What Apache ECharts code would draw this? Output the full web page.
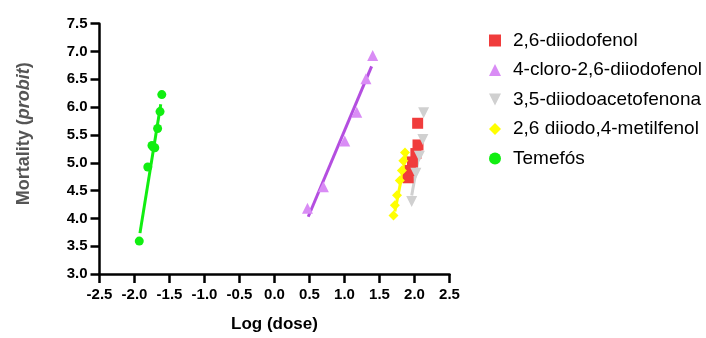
<!DOCTYPE html>
<html><head><meta charset="utf-8">
<script src="https://cdn.jsdelivr.net/npm/echarts@6/dist/echarts.min.js"></script>
<style>html,body{margin:0;padding:0;background:#fff}#c{width:706px;height:338px}</style>
</head><body><div id="c"></div>
<script>
// Data: [log dose, probit]
const seriesNames = ['2,6-diiodofenol','4-cloro-2,6-diiodofenol','3,5-diiodoacetofenona','2,6 diiodo,4-metilfenol','Temefós'];
const diiodofenolPts = [[2.045,5.71],[2.05,5.32],[2.02,5.165],[1.97,5.015],[1.94,4.86],[1.91,4.73]];
const diiodofenolLine = [[1.91,4.66],[2.07,5.37]];
const cloroPts = [[1.403,6.927],[1.306,6.51],[1.175,5.91],[1.004,5.392],[0.698,4.568],[0.471,4.182]];
const cloroLine = [[0.482,4.03],[1.387,6.734]];
const acetoPts = [[2.13,5.90],[2.12,5.42],[2.07,5.115],[2.02,4.81],[1.96,4.305]];
const acetoLine = [[1.96,4.41],[2.11,5.47]];
const metilPts = [[1.864,5.185],[1.84,5.035],[1.82,4.86],[1.79,4.68],[1.75,4.415],[1.72,4.235],[1.70,4.05]];
const metilLine = [[1.72,4.125],[1.89,5.215]];
const temefosPts = [[-1.61,6.225],[-1.635,5.92],[-1.67,5.615],[-1.73,5.28],[-1.75,5.31],[-1.71,5.27],[-1.81,4.924],[-1.932,3.592]];
const temefosLine = [[-1.922,3.735],[-1.625,6.05]];
const xTicks = [-2.5,2.5,0.5];
const yTicks = [3.0,7.5,0.5];

const markerColors = ['#f03c3c','#d98cf5','#d0d0d0','#ffff00','#11ee11'];
const lineColors = ['#ff0000','#b44ee0','#d0d0d0','#ffff00','#11ee11'];
const symbols = ['rect','triangle','path://M0,0 L10,0 L5,10 Z','diamond','circle'];
const symSizes = [11,11,11,10,9];
const pts = [diiodofenolPts,cloroPts,acetoPts,metilPts,temefosPts];
const lines = [diiodofenolLine,cloroLine,acetoLine,metilLine,temefosLine];

const series = [];
for (let i=0;i<5;i++){
  series.push({type:'line',name:seriesNames[i]+' fit',data:lines[i],showSymbol:false,symbol:'none',
    lineStyle:{color:lineColors[i],width:3},z:2,silent:true});
}
for (let i=0;i<5;i++){
  series.push({type:'scatter',name:seriesNames[i],data:pts[i],symbol:symbols[i],symbolSize:symSizes[i],
    itemStyle:{color:markerColors[i],opacity:1},z:3});
}
const axisFont = {fontFamily:'Liberation Sans, Arial',fontWeight:'bold',fontSize:15,color:'#000'};
const chart = echarts.init(document.getElementById('c'));
chart.setOption({
  animation:false,
  grid:{left:99.5,top:23.7,width:350,height:252.3,containLabel:false},
  legend:{orient:'vertical',left:484,top:26,itemGap:10.5,itemWidth:12,itemHeight:12,
    data:seriesNames,textStyle:{fontFamily:'Liberation Sans, Arial',fontSize:19,color:'#000',padding:[0,0,0,7]}},
  xAxis:{type:'value',min:xTicks[0],max:xTicks[1],interval:xTicks[2],
    name:'Log (dose)',nameLocation:'middle',nameGap:42,
    nameTextStyle:{fontFamily:'Liberation Sans, Arial',fontWeight:'bold',fontSize:17,color:'#000'},
    axisLine:{onZero:false,lineStyle:{color:'#000',width:2.5}},
    axisTick:{show:true,length:9,lineStyle:{color:'#000',width:2.5}},
    axisLabel:Object.assign({margin:13,formatter:v=>v.toFixed(1)},axisFont),
    splitLine:{show:false}},
  yAxis:{type:'value',min:yTicks[0],max:yTicks[1],interval:yTicks[2],
    name:'{a|Mortality (}{b|probit}{a|)}',nameLocation:'middle',nameGap:66,nameRotate:90,
    nameTextStyle:{padding:[0,0,0,30],rich:{
      a:{fontFamily:'Liberation Sans, Arial',fontWeight:'bold',fontSize:18,color:'#555'},
      b:{fontFamily:'Liberation Sans, Arial',fontWeight:'bold',fontStyle:'italic',fontSize:18,color:'#555'}}},
    axisLine:{onZero:false,lineStyle:{color:'#000',width:2.5}},
    axisTick:{show:true,length:9,lineStyle:{color:'#000',width:2.5}},
    axisLabel:Object.assign({margin:12,formatter:v=>v.toFixed(1)},axisFont),
    splitLine:{show:false}},
  series:series
});
</script></body></html>
